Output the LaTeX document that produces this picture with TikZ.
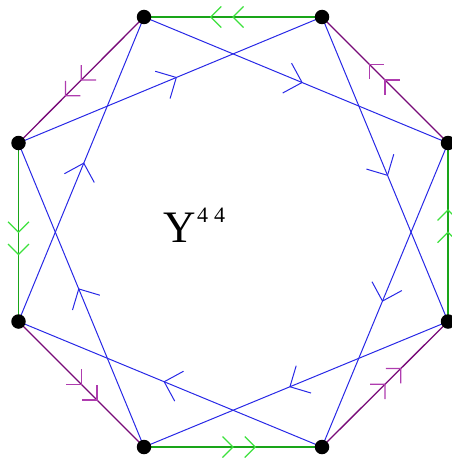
\documentclass[tikz,border=0pt]{standalone}
\usepackage{fontspec}
\setmainfont{Liberation Serif}
\usetikzlibrary{decorations.markings}
\definecolor{edgegreen}{RGB}{25,165,25}
\definecolor{chevgreen}{RGB}{60,225,60}
\definecolor{edgepurple}{RGB}{120,10,120}
\definecolor{chevpurple}{RGB}{175,60,175}
\definecolor{starblue}{RGB}{40,40,230}
\tikzset{
  vtx/.style={circle,fill=black,inner sep=0pt,minimum size=14.5pt},
  greenedge/.style={draw=edgegreen,line width=1.6pt,postaction={decorate},
    decoration={markings,
      mark=at position 0.5 with {\draw[chevgreen,line width=1.2pt] (-10.5pt,10.5pt)--(0pt,0pt)--(-10.5pt,-10.5pt);},
      mark=at position 0.625 with {\draw[chevgreen,line width=1.2pt] (-10.5pt,10.5pt)--(0pt,0pt)--(-10.5pt,-10.5pt);}}},
  purpleedge/.style={draw=edgepurple,line width=1.3pt,postaction={decorate},
    decoration={markings,
      mark=at position 0.5 with {\draw[chevpurple,line width=1.2pt] (-10.5pt,10.5pt)--(0pt,0pt)--(-10.5pt,-10.5pt);},
      mark=at position 0.625 with {\draw[chevpurple,line width=1.2pt] (-10.5pt,10.5pt)--(0pt,0pt)--(-10.5pt,-10.5pt);}}},
  blueedge/.style={draw=starblue,line width=1pt,postaction={decorate},
    decoration={markings,
      mark=at position 0.52 with {\draw[starblue,line width=1pt] (141:22pt)--(0pt,0pt)--(231:22pt);}}}
}
\begin{document}
\begin{tikzpicture}[x=1pt,y=-1pt]
\useasboundingbox (0,0) rectangle (451,460);
\coordinate (c0) at (144,17);
\coordinate (c1) at (322,17);
\coordinate (c2) at (448,143);
\coordinate (c3) at (448,321.5);
\coordinate (c4) at (322,447);
\coordinate (c5) at (144,447);
\coordinate (c6) at (18.5,321.5);
\coordinate (c7) at (18.5,143);
% outer edges
\draw[greenedge] (c1) -- (c0);
\draw[purpleedge] (c2) -- (c1);
\draw[greenedge] (c3) -- (c2);
\draw[purpleedge] (c4) -- (c3);
\draw[greenedge] (c5) -- (c4);
\draw[purpleedge] (c6) -- (c5);
\draw[greenedge] (c7) -- (c6);
\draw[purpleedge] (c0) -- (c7);
% inner squares
\draw[blueedge] (c7) -- (c1);
\draw[blueedge] (c0) -- (c2);
\draw[blueedge] (c1) -- (c3);
\draw[blueedge] (c2) -- (c4);
\draw[blueedge] (c3) -- (c5);
\draw[blueedge] (c4) -- (c6);
\draw[blueedge] (c5) -- (c7);
\draw[blueedge] (c6) -- (c0);
% vertices
\foreach \i in {0,...,7} \node[vtx] (v\i) at (c\i) {};
% label
\node[anchor=base west,inner sep=0pt,font=\fontsize{45}{50}\selectfont] (lab) at (163,242) {Y};
\node[anchor=base west,inner sep=0pt,font=\fontsize{22}{26}\selectfont] (sup) at (197,222) {4\hspace{6pt}4};
\end{tikzpicture}
\end{document}
